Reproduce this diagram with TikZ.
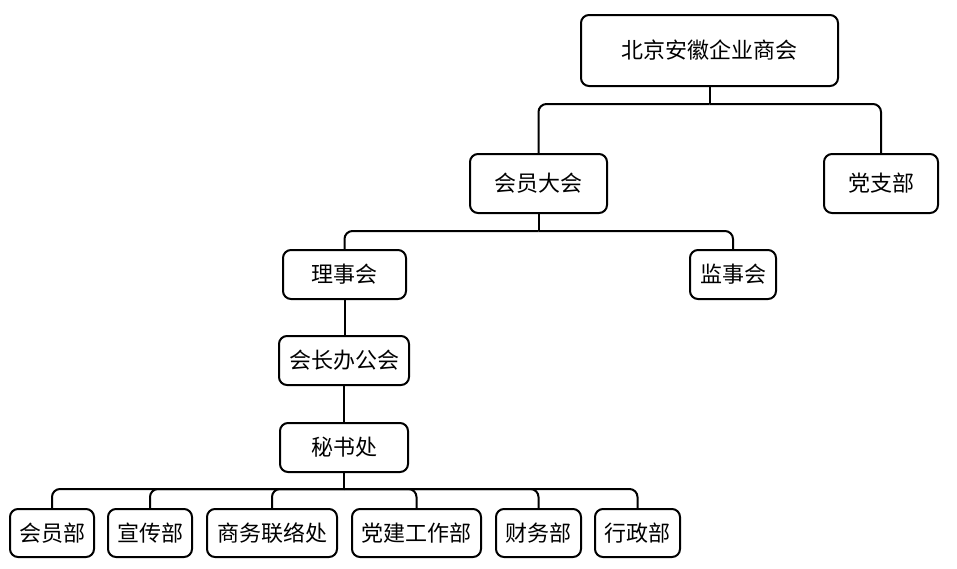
\documentclass[tikz,border=0pt]{standalone}
\usepackage{fontspec}
\setmainfont{Noto Sans CJK SC}
\begin{document}
\begin{tikzpicture}[x=1pt,y=-1pt,
  box/.style={draw, line width=2pt, rounded corners=8pt, inner sep=0pt, font=\fontsize{22}{26}\selectfont},
  link/.style={line width=2pt, rounded corners=8pt}]
\useasboundingbox (0,0) rectangle (957,568);
% nodes
\node[box, minimum width=257pt, minimum height=71pt] (top) at (709.5,50.5) {北京安徽企业商会};
\node[box, minimum width=137pt, minimum height=59pt] (hy) at (538.5,183.5) {会员大会};
\node[box, minimum width=114pt, minimum height=59pt] (dzb) at (881,183.5) {党支部};
\node[box, minimum width=123pt, minimum height=49pt] (lsh) at (344.5,274.5) {理事会};
\node[box, minimum width=86pt, minimum height=49pt] (jsh) at (733,274.5) {监事会};
\node[box, minimum width=130pt, minimum height=49pt] (hz) at (344,360.5) {会长办公会};
\node[box, minimum width=128pt, minimum height=49pt] (msc) at (344,447.5) {秘书处};
\node[box, minimum width=84pt, minimum height=48pt] (d1) at (52,533) {会员部};
\node[box, minimum width=84pt, minimum height=48pt] (d2) at (150,533) {宣传部};
\node[box, minimum width=130pt, minimum height=48pt] (d3) at (272,533) {商务联络处};
\node[box, minimum width=129pt, minimum height=48pt] (d4) at (416.5,533) {党建工作部};
\node[box, minimum width=85pt, minimum height=48pt] (d5) at (538.5,533) {财务部};
\node[box, minimum width=85pt, minimum height=48pt] (d6) at (637.5,533) {行政部};
% junctions
\coordinate (j1) at (709.5,104);
\coordinate (j2) at (538.5,231);
\coordinate (j3) at (344,489);
% connectors
\draw[link] (top.south) -- (j1);
\draw[link] (j1) -| (hy.north);
\draw[link] (j1) -| (dzb.north);
\draw[link] (hy.south) -- (j2);
\draw[link] (j2) -| (lsh.north);
\draw[link] (j2) -| (jsh.north);
\draw[link] (lsh.south) -- (lsh.south |- hz.north);
\draw[link] (hz.south) -- (msc.north);
\draw[link] (msc.south) -- (j3);
\foreach \d in {d1,d2,d3,d4,d5,d6}{\draw[link] (j3) -| (\d.north);}
\end{tikzpicture}
\end{document}
